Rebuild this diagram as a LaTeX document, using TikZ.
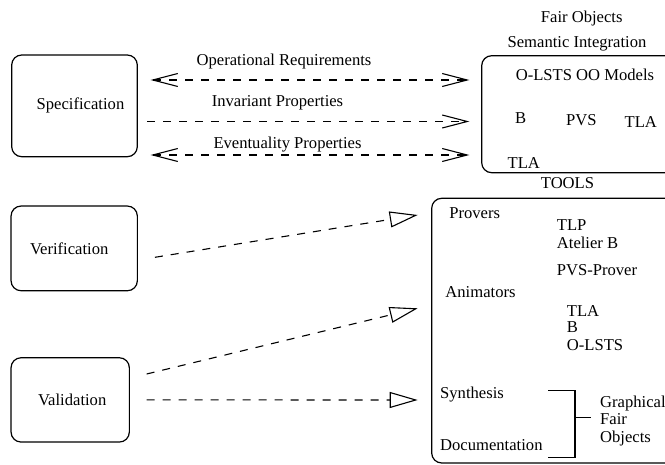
\documentclass[tikz,border=0pt]{standalone}
\usepackage{fontspec}
\setmainfont{Liberation Serif}
\usetikzlibrary{arrows.meta,calc}
\begin{document}
\begin{tikzpicture}[x=1pt,y=-1pt,
  every node/.style={font=\fontsize{16.6}{20}\selectfont, inner sep=0pt},
  stagebox/.style={draw, line width=1.2pt, rounded corners=10pt},
  ctext/.style={anchor=base},
  ltext/.style={anchor=base west},
  dashline/.style={line width=1.1pt, dash pattern=on 8pt off 8pt},
  barb/.tip={Straight Barb[length=25pt,width=13pt,line width=1.1pt]},
  tri/.tip={Triangle[open,length=28pt,width=16pt,line width=1.1pt]}]
\path[use as bounding box, clip] (0,0) rectangle (665,465);

% boxes
\node[stagebox, minimum width=125.6pt, minimum height=101.7pt] (spec) at (74.5,105.85) {\hspace{12pt}Specification};
\node[stagebox, minimum width=126.3pt, minimum height=84.7pt] (ver) at (74.2,248.4) {\hspace{-10pt}\raisebox{-3pt}{Verification}};
\node[stagebox, minimum width=118.3pt, minimum height=84.3pt] (val) at (70.2,399.9) {\hspace{4pt}Validation};
\node[stagebox, minimum width=208.3pt, minimum height=117pt] (sem) at (585.85,114.2) {};
\node[stagebox, minimum width=248.3pt, minimum height=264.7pt] (tools) at (555.85,330.65) {};

% titles
\node[ctext] (fo) at (581.7,22.8) {Fair Objects};
\node[ctext] (si) at (577,47.8) {Semantic Integration};
\node[ctext] (tl) at (567.5,188.8) {TOOLS};

% arrow labels
\node[ctext] (opr) at (284,65.5) {Operational Requirements};
\node[ctext] (inv) at (277.5,106.5) {Invariant Properties};
\node[ctext] (evp) at (287.5,148.5) {Eventuality Properties};

% semantic box contents
\node[ctext] (olsts) at (585,80.5) {O-LSTS OO Models};
\node[ctext] (sb) at (520.7,123.5) {B};
\node[ctext] (spvs) at (581.3,125.5) {PVS};
\node[ctext] (stla) at (640.8,127.5) {TLA};
\node[ctext] (stlab) at (523.8,168.2) {TLA};

% tools contents
\node[ctext] (prov) at (474.7,218.8) {Provers};
\node[ltext] (tlp) at (556.7,230.5) {TLP};
\node[ltext] (atb) at (556.7,248.8) {Atelier B};
\node[ltext] (pvsp) at (556.7,275.5) {PVS-Prover};
\node[ctext] (anim) at (480.5,297.2) {Animators};
\node[ltext] (atla) at (566.7,316.2) {TLA};
\node[ltext] (ab) at (566.7,332.2) {B};
\node[ltext] (aol) at (566.7,350.5) {O-LSTS};
\node[ltext] (syn) at (440,398.8) {Synthesis};
\node[ltext] (doc) at (440,450.5) {Documentation};
\node[ltext] (gr) at (600,407.2) {Graphical};
\node[ltext] (fa) at (600,424.8) {Fair};
\node[ltext] (ob) at (600,442.2) {Objects};

% bracket
\draw[line width=1.2pt] (548.3,390.7) -- (575,390.7) -- (575,457.3) -- (548.3,457.3);
\draw[line width=1.2pt] (575,417.3) -- (590.7,417.3);

% specification arrows
\draw[dashline, barb-barb, shorten <=12.7pt, shorten >=11.7pt]
  ([yshift=25.85pt]spec.east) -- ([yshift=34.2pt]sem.west);
\draw[dashline, -barb, shorten <=9.4pt, shorten >=11.7pt]
  ([yshift=-15.65pt]spec.east) -- ([yshift=-7.3pt]sem.west);
\draw[dashline, barb-barb, shorten <=12.7pt, shorten >=11.7pt]
  ([yshift=-49.15pt]spec.east) -- ([yshift=-40.8pt]sem.west);

% verification / validation arrows
\draw[dashline, -tri] ([xshift=17pt,yshift=-8.9pt]ver.east) -- ([xshift=-13.4pt,yshift=115.65pt]tools.west);
\draw[dashline, -tri] ([xshift=16.7pt,yshift=25.9pt]val.east) -- ([xshift=-13.4pt,yshift=22.35pt]tools.west);
\draw[dashline, -tri] ([xshift=16.7pt]val.east) -- ([xshift=-13.4pt,yshift=-69.35pt]tools.west);
\end{tikzpicture}
\end{document}
